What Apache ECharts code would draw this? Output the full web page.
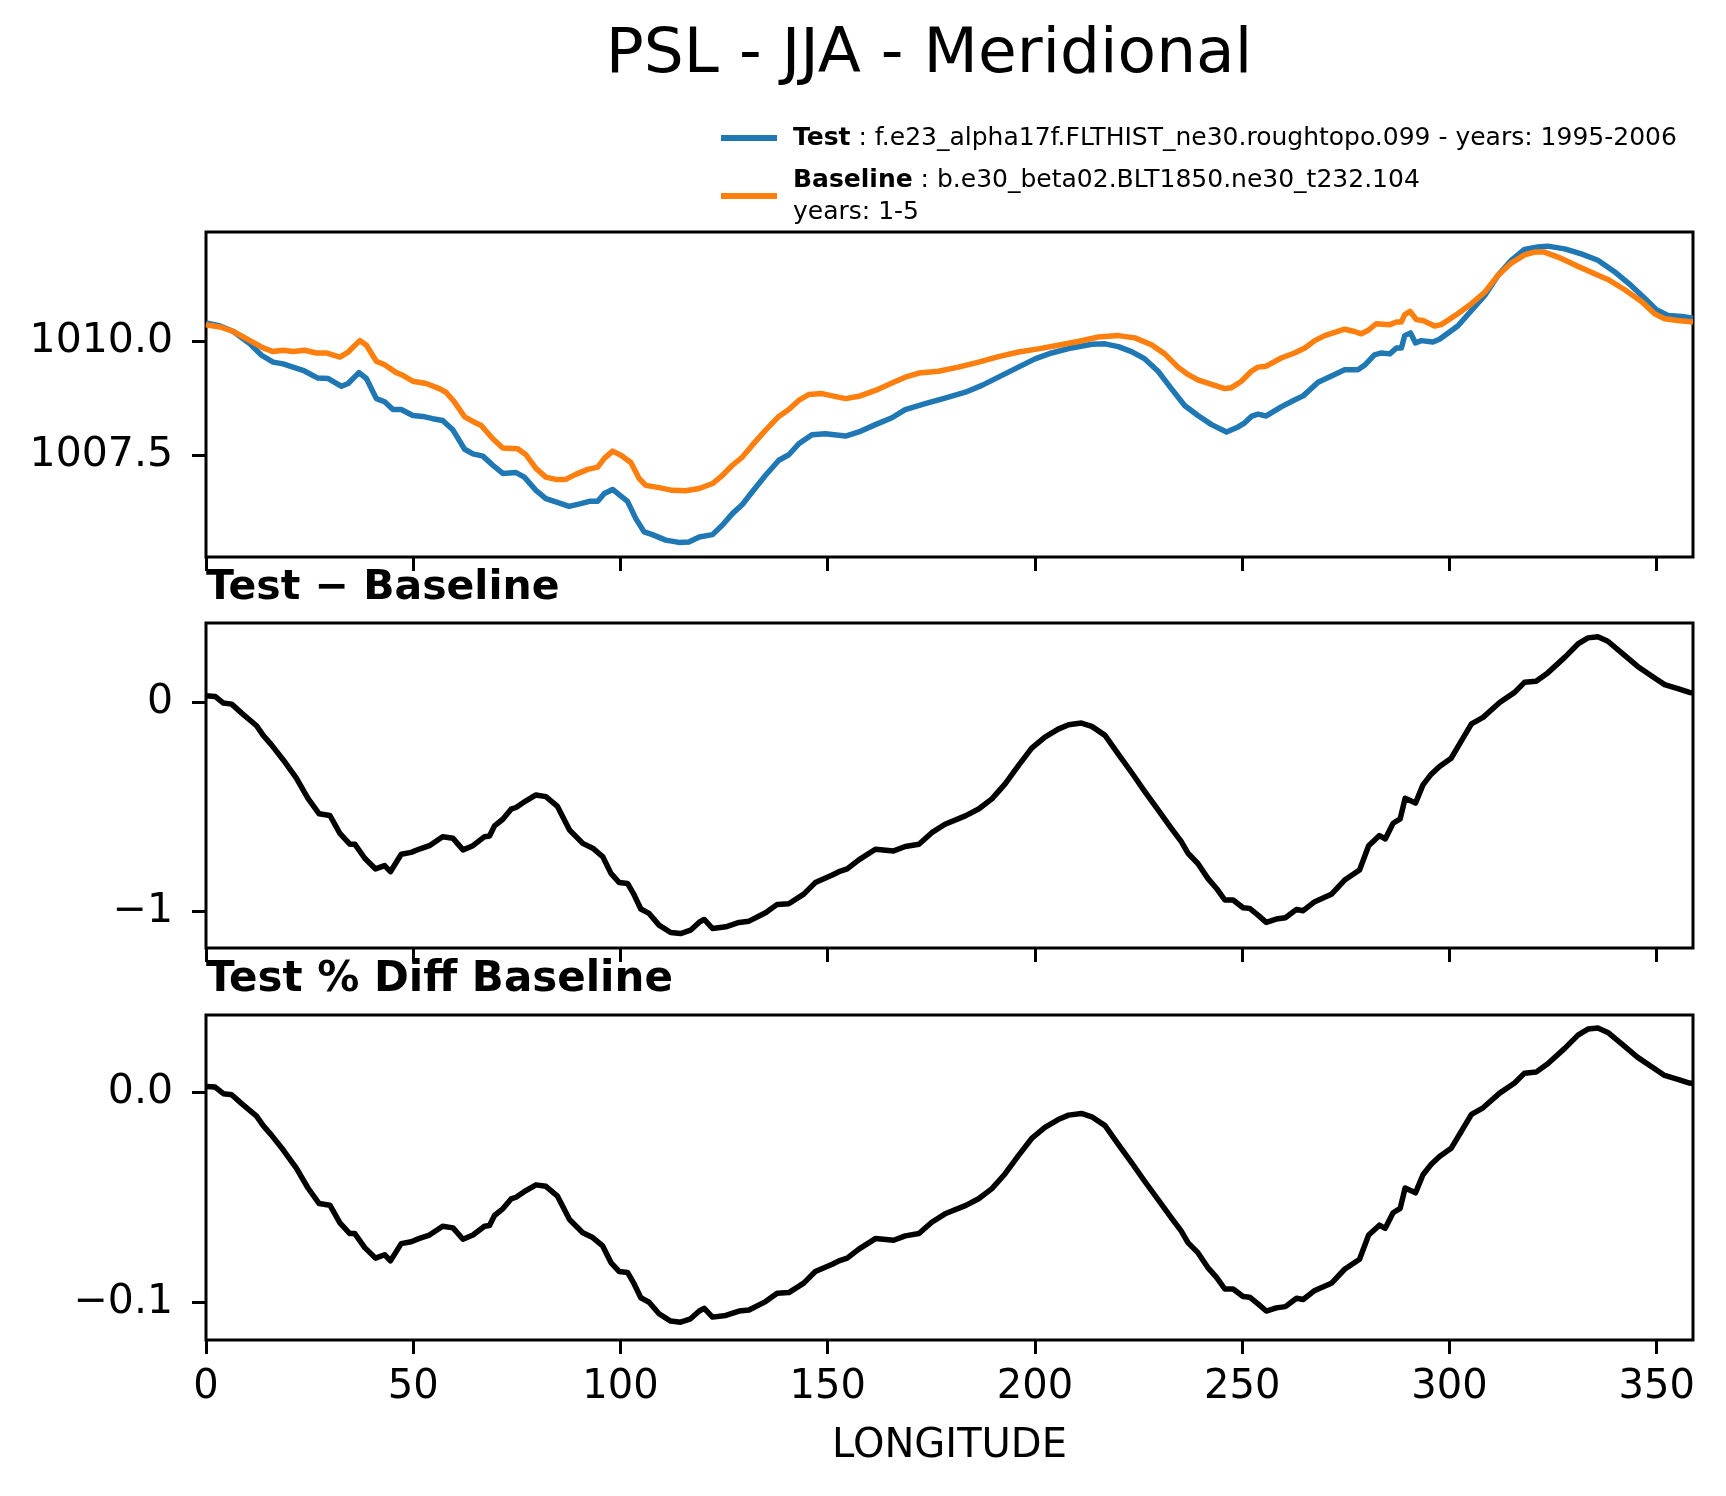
<!DOCTYPE html>
<html>
<head>
<meta charset="utf-8">
<title>PSL - JJA - Meridional</title>
<script src="https://cdn.jsdelivr.net/npm/echarts@6/dist/echarts.min.js"></script>
<style>
  html, body { margin: 0; padding: 0; background: #fff; }
  #chart { width: 1726px; height: 1496px; }
</style>
</head>
<body>
<div id="chart"></div>
<script>
// 经度刻度
var lonTicks = [0, 50, 100, 150, 200, 250, 300, 350];

// Test 曲线 (hPa)
var testLon = [0, 3.4, 6.6, 10.6, 13.4, 16.2, 18.6, 21.0, 23.4, 27.0, 29.5, 32.7, 34.3, 36.9, 38.7, 41.1, 43.1, 45.1, 47.1, 49.9,
    52.3, 54.7, 57.1, 59.6, 62.4, 64.4, 66.8, 69.2, 71.6, 74.8, 76.8, 79.6, 82.0, 84.4, 87.6, 90.4, 92.5, 94.5, 96.1, 98.1,
    101.7, 103.7, 105.7, 107.7, 110.9, 114.1, 116.5, 119.0, 122.2, 124.6, 127.0, 129.4, 131.8, 135.0, 138.2, 140.6, 143.0, 146.2, 149.4, 154.3,
    157.5, 161.5, 165.5, 168.7, 173.5, 178.3, 183.2, 187.2, 191.2, 196.0, 200.0, 204.0, 208.8, 213.7, 216.9, 220.1, 223.3, 226.5, 229.7, 232.9,
    236.1, 239.3, 242.6, 246.2, 249.0, 250.6, 252.2, 253.8, 255.8, 259.4, 262.6, 264.7, 268.3, 272.3, 274.7, 277.9, 279.5, 281.9, 283.6, 285.6,
    287.2, 288.4, 289.2, 290.6, 291.8, 293.2, 296.0, 297.6, 302.0, 305.3, 308.5, 311.7, 314.9, 318.1, 321.3, 323.7, 327.8, 331.8, 335.8, 339.8,
    343.8, 347.1, 349.9, 352.7, 356.0, 358.75];
var testPsl = [1010.40, 1010.33, 1010.21, 1009.94, 1009.69, 1009.54, 1009.50, 1009.43, 1009.36, 1009.19, 1009.18, 1009.01, 1009.07, 1009.31, 1009.18, 1008.74, 1008.67, 1008.50, 1008.50, 1008.37,
    1008.35, 1008.30, 1008.26, 1008.05, 1007.63, 1007.53, 1007.48, 1007.28, 1007.10, 1007.12, 1007.02, 1006.73, 1006.55, 1006.48, 1006.38, 1006.44, 1006.49, 1006.49, 1006.66, 1006.75,
    1006.49, 1006.11, 1005.82, 1005.76, 1005.64, 1005.59, 1005.60, 1005.71, 1005.76, 1005.97, 1006.22, 1006.42, 1006.70, 1007.06, 1007.39, 1007.51, 1007.75, 1007.95, 1007.97, 1007.92,
    1008.01, 1008.17, 1008.32, 1008.50, 1008.63, 1008.75, 1008.88, 1009.03, 1009.21, 1009.43, 1009.61, 1009.74, 1009.85, 1009.93, 1009.94, 1009.88, 1009.77, 1009.61, 1009.34, 1008.96,
    1008.59, 1008.37, 1008.17, 1008.01, 1008.12, 1008.21, 1008.35, 1008.40, 1008.36, 1008.56, 1008.71, 1008.80, 1009.10, 1009.27, 1009.37, 1009.37, 1009.47, 1009.70, 1009.74, 1009.72,
    1009.85, 1009.85, 1010.12, 1010.18, 1009.96, 1010.01, 1009.98, 1010.04, 1010.33, 1010.67, 1011.00, 1011.44, 1011.77, 1012.01, 1012.06, 1012.08, 1012.02, 1011.91, 1011.77, 1011.52,
    1011.22, 1010.94, 1010.69, 1010.56, 1010.54, 1010.50];

// Baseline 曲线 (hPa)
var baseLon = [0, 3.4, 6.6, 10.6, 13.8, 16.2, 18.6, 21.0, 23.8, 26.6, 29.0, 32.3, 34.3, 37.1, 38.7, 41.1, 43.1, 45.9, 47.5, 49.9,
    53.1, 56.3, 57.9, 59.9, 62.4, 64.4, 66.4, 69.2, 71.6, 75.2, 77.2, 79.6, 82.0, 84.4, 86.8, 89.2, 92.1, 94.5, 96.1, 98.1,
    100.1, 102.5, 104.5, 106.1, 109.3, 112.5, 115.7, 119.0, 122.2, 124.6, 127.0, 129.4, 131.8, 135.0, 138.2, 140.6, 143.0, 145.4, 148.6, 151.1,
    154.3, 157.5, 161.5, 165.5, 168.7, 172.0, 176.7, 181.5, 186.4, 191.2, 196.0, 200.8, 205.6, 210.4, 215.3, 220.1, 224.1, 228.1, 231.3, 234.5,
    236.9, 239.3, 242.6, 245.8, 247.4, 249.8, 252.2, 253.8, 255.8, 259.4, 262.6, 265.1, 267.5, 269.9, 274.7, 277.1, 278.7, 280.3, 282.3, 285.6,
    287.2, 288.4, 289.2, 290.5, 292.0, 293.6, 296.4, 298.0, 302.0, 305.3, 308.5, 311.7, 314.9, 318.1, 320.5, 322.9, 326.2, 330.2, 334.2, 338.2,
    342.2, 346.3, 349.5, 351.9, 355.1, 358.75];
var basePsl = [1010.36, 1010.31, 1010.21, 1010.01, 1009.85, 1009.77, 1009.80, 1009.77, 1009.80, 1009.74, 1009.74, 1009.65, 1009.76, 1010.01, 1009.91, 1009.56, 1009.48, 1009.31, 1009.25, 1009.12,
    1009.07, 1008.96, 1008.88, 1008.67, 1008.34, 1008.24, 1008.15, 1007.86, 1007.66, 1007.64, 1007.51, 1007.21, 1007.02, 1006.97, 1006.97, 1007.08, 1007.19, 1007.24, 1007.43, 1007.59,
    1007.50, 1007.34, 1006.99, 1006.84, 1006.79, 1006.73, 1006.72, 1006.77, 1006.88, 1007.06, 1007.28, 1007.46, 1007.72, 1008.05, 1008.35, 1008.50, 1008.70, 1008.83, 1008.85, 1008.80,
    1008.74, 1008.79, 1008.92, 1009.08, 1009.21, 1009.30, 1009.34, 1009.43, 1009.54, 1009.66, 1009.76, 1009.83, 1009.91, 1009.99, 1010.09, 1010.12, 1010.07, 1009.92, 1009.72, 1009.43,
    1009.27, 1009.15, 1009.05, 1008.96, 1008.98, 1009.12, 1009.34, 1009.43, 1009.45, 1009.63, 1009.74, 1009.85, 1010.01, 1010.12, 1010.26, 1010.21, 1010.16, 1010.23, 1010.38, 1010.36,
    1010.42, 1010.42, 1010.58, 1010.65, 1010.47, 1010.45, 1010.33, 1010.36, 1010.60, 1010.82, 1011.07, 1011.44, 1011.71, 1011.89, 1011.95, 1011.95, 1011.84, 1011.67, 1011.51, 1011.35,
    1011.13, 1010.87, 1010.60, 1010.49, 1010.45, 1010.42];

// 差值曲线经度
var diffLon = [0, 2.2, 4.2, 6.2, 8.6, 12.2, 13.8, 15.8, 18.6, 21.8, 24.6, 27.3, 29.9, 32.3, 34.7, 35.9, 38.3, 40.9, 43.1, 44.5,
    47.1, 49.5, 51.5, 53.9, 57.1, 59.6, 62.0, 64.4, 67.2, 68.4, 69.6, 71.6, 73.6, 74.8, 77.2, 79.6, 82.0, 84.8, 87.7, 90.9,
    93.3, 95.7, 97.7, 99.7, 101.7, 103.3, 104.9, 106.9, 109.3, 112.1, 114.5, 116.9, 119.0, 120.2, 122.2, 125.4, 128.6, 131.0, 135.0, 137.8,
    140.6, 144.2, 147.0, 151.1, 152.7, 154.7, 157.5, 161.5, 165.9, 168.7, 172.0, 175.1, 178.3, 183.2, 186.4, 189.6, 192.8, 196.0, 199.2, 202.4,
    205.6, 208.1, 211.2, 213.7, 216.9, 220.1, 223.3, 226.5, 229.7, 232.9, 235.3, 236.9, 239.3, 241.7, 243.8, 245.8, 247.8, 250.2, 251.8, 253.8,
    255.8, 258.2, 260.4, 263.1, 264.7, 267.5, 271.5, 274.7, 278.3, 280.5, 283.1, 284.5, 286.4, 288.1, 289.3, 291.8, 293.6, 295.6, 297.6, 300.4,
    302.8, 305.3, 308.1, 312.1, 315.7, 318.1, 320.9, 323.7, 327.8, 331.0, 333.4, 335.8, 338.2, 341.4, 345.4, 349.5, 351.9, 355.1, 357.9, 358.75];

// Test - Baseline (hPa)
var diffVal = [0.030, 0.027, -0.005, -0.010, -0.053, -0.113, -0.159, -0.204, -0.275, -0.363, -0.459, -0.533, -0.541, -0.626, -0.678, -0.678, -0.745, -0.796, -0.780, -0.809,
    -0.726, -0.717, -0.701, -0.685, -0.642, -0.650, -0.705, -0.685, -0.642, -0.639, -0.591, -0.559, -0.511, -0.503, -0.471, -0.443, -0.451, -0.498, -0.610, -0.674,
    -0.697, -0.737, -0.817, -0.861, -0.865, -0.920, -0.987, -1.008, -1.064, -1.099, -1.104, -1.088, -1.050, -1.037, -1.080, -1.072, -1.051, -1.045, -1.005, -0.965,
    -0.962, -0.916, -0.861, -0.825, -0.809, -0.796, -0.753, -0.702, -0.710, -0.689, -0.678, -0.623, -0.583, -0.543, -0.510, -0.462, -0.390, -0.303, -0.220, -0.167,
    -0.129, -0.108, -0.100, -0.116, -0.159, -0.248, -0.336, -0.427, -0.514, -0.602, -0.666, -0.721, -0.770, -0.841, -0.889, -0.944, -0.944, -0.981, -0.984, -1.016,
    -1.051, -1.035, -1.029, -0.989, -0.995, -0.952, -0.917, -0.849, -0.801, -0.685, -0.637, -0.653, -0.578, -0.557, -0.459, -0.482, -0.395, -0.344, -0.307, -0.268,
    -0.188, -0.104, -0.073, -0.002, 0.046, 0.094, 0.099, 0.139, 0.213, 0.277, 0.306, 0.311, 0.290, 0.237, 0.170, 0.115, 0.083, 0.064, 0.046, 0.044];

// Test % Diff Baseline (%)
var pctVal = [0.0030, 0.0027, -0.0005, -0.0010, -0.0052, -0.0112, -0.0157, -0.0202, -0.0272, -0.0359, -0.0454, -0.0528, -0.0536, -0.0620, -0.0671, -0.0671, -0.0738, -0.0788, -0.0772, -0.0801,
    -0.0719, -0.0710, -0.0694, -0.0678, -0.0636, -0.0644, -0.0698, -0.0678, -0.0636, -0.0633, -0.0585, -0.0553, -0.0506, -0.0498, -0.0466, -0.0439, -0.0446, -0.0493, -0.0604, -0.0667,
    -0.0690, -0.0730, -0.0809, -0.0852, -0.0856, -0.0911, -0.0977, -0.0998, -0.1053, -0.1088, -0.1093, -0.1077, -0.1040, -0.1027, -0.1069, -0.1061, -0.1040, -0.1035, -0.0995, -0.0955,
    -0.0952, -0.0907, -0.0852, -0.0817, -0.0801, -0.0788, -0.0745, -0.0695, -0.0703, -0.0682, -0.0671, -0.0617, -0.0577, -0.0538, -0.0505, -0.0457, -0.0386, -0.0300, -0.0218, -0.0165,
    -0.0128, -0.0107, -0.0099, -0.0115, -0.0157, -0.0246, -0.0333, -0.0423, -0.0509, -0.0596, -0.0659, -0.0714, -0.0762, -0.0833, -0.0880, -0.0935, -0.0935, -0.0971, -0.0974, -0.1006,
    -0.1040, -0.1025, -0.1019, -0.0979, -0.0985, -0.0942, -0.0908, -0.0841, -0.0793, -0.0678, -0.0631, -0.0646, -0.0572, -0.0551, -0.0454, -0.0477, -0.0391, -0.0341, -0.0304, -0.0265,
    -0.0186, -0.0103, -0.0072, -0.0002, 0.0046, 0.0093, 0.0098, 0.0138, 0.0211, 0.0274, 0.0303, 0.0308, 0.0287, 0.0235, 0.0168, 0.0114, 0.0082, 0.0063, 0.0046, 0.0044];

// y轴刻度
var pslTicks = [1007.5, 1010.0];
var diffTicks = [-1, 0];
var pctTicks = [-0.1, 0.0];

var FONT = 'DejaVu Sans';

// 把经度和数值拼成点
function pairs(xs, ys) {
    var out = [];
    for (var i = 0; i < xs.length; i++) {
        out.push([xs[i], ys[i]]);
    }
    return out;
}

// 负号用 U+2212
function minus(s) {
    return s.replace('-', '\u2212');
}

var grids = [
    { left: 206, top: 232, width: 1487, height: 325 },
    { left: 206, top: 623, width: 1487, height: 325 },
    { left: 206, top: 1015, width: 1487, height: 325 }
];
grids.forEach(function(g) {
    g.show = true;
    g.borderColor = '#000';
    g.borderWidth = 3;
    g.backgroundColor = 'transparent';
    g.containLabel = false;
});

function makeX(idx) {
    var isLast = idx === 2;
    return {
        type: 'value',
        gridIndex: idx,
        min: 0,
        max: 358.75,
        axisLine: { show: false, onZero: false },
        splitLine: { show: false },
        axisTick: {
            show: true,
            length: 14,
            customValues: lonTicks,
            lineStyle: { color: '#000', width: 3 }
        },
        axisLabel: {
            show: isLast,
            customValues: lonTicks,
            margin: 28,
            color: '#000',
            fontSize: 40,
            fontFamily: FONT
        },
        name: isLast ? 'LONGITUDE' : '',
        nameLocation: 'middle',
        nameGap: 87,
        nameTextStyle: { color: '#000', fontSize: 40, fontFamily: FONT }
    };
}

function makeY(idx, min, max, ticks, fmt) {
    return {
        type: 'value',
        gridIndex: idx,
        min: min,
        max: max,
        axisLine: { show: false, onZero: false },
        splitLine: { show: false },
        axisTick: {
            show: true,
            length: 14,
            customValues: ticks,
            lineStyle: { color: '#000', width: 3 }
        },
        axisLabel: {
            customValues: ticks,
            margin: 33,
            color: '#000',
            fontSize: 41,
            fontFamily: FONT,
            formatter: fmt
        }
    };
}

var legendRich = {
    b: { fontWeight: 'bold', fontSize: 25, fontFamily: FONT, color: '#000', lineHeight: 32 }
};

var option = {
    animation: false,
    backgroundColor: '#fff',
    title: [
        {
            text: 'PSL - JJA - Meridional',
            left: 929, top: 24, padding: 0,
            textAlign: 'center',
            textStyle: { fontSize: 63, fontWeight: 'normal', fontFamily: FONT, color: '#000', lineHeight: 63 }
        },
        {
            text: 'Test \u2212 Baseline',
            left: 206, top: 568, padding: 0,
            textStyle: { fontSize: 41, fontWeight: 'bold', fontFamily: FONT, color: '#000', lineHeight: 41 }
        },
        {
            text: 'Test % Diff Baseline',
            left: 206, top: 959, padding: 0,
            textStyle: { fontSize: 42, fontWeight: 'bold', fontFamily: FONT, color: '#000', lineHeight: 42 }
        }
    ],
    legend: [
        {
            data: ['Test'],
            left: 721, top: 122, padding: 0,
            orient: 'vertical',
            selectedMode: false,
            icon: 'rect',
            itemWidth: 56, itemHeight: 6,
            formatter: function() {
                return '{b|Test} : f.e23_alpha17f.FLTHIST_ne30.roughtopo.099 - years: 1995-2006';
            },
            textStyle: { fontSize: 25, fontFamily: FONT, color: '#000', lineHeight: 32, padding: [0, 0, 0, 11], rich: legendRich }
        },
        {
            data: ['Baseline'],
            left: 721, top: 164, padding: 0,
            orient: 'vertical',
            selectedMode: false,
            icon: 'rect',
            itemWidth: 56, itemHeight: 6,
            formatter: function() {
                return '{b|Baseline} : b.e30_beta02.BLT1850.ne30_t232.104\nyears: 1-5';
            },
            textStyle: { fontSize: 25, fontFamily: FONT, color: '#000', lineHeight: 32, padding: [0, 0, 0, 11], rich: legendRich }
        }
    ],
    grid: grids,
    xAxis: [makeX(0), makeX(1), makeX(2)],
    yAxis: [
        makeY(0, 1005.27, 1012.39, pslTicks, function(v) { return v.toFixed(1); }),
        makeY(1, -1.173, 0.377, diffTicks, function(v) { return minus(String(v)); }),
        makeY(2, -0.1178, 0.037, pctTicks, function(v) { return minus(v.toFixed(1)); })
    ],
    series: [
        {
            name: 'Test', type: 'line', xAxisIndex: 0, yAxisIndex: 0,
            data: pairs(testLon, testPsl),
            showSymbol: false, symbol: 'none',
            itemStyle: { color: '#1f77b4' },
            lineStyle: { color: '#1f77b4', width: 5.5, join: 'round' }
        },
        {
            name: 'Baseline', type: 'line', xAxisIndex: 0, yAxisIndex: 0,
            data: pairs(baseLon, basePsl),
            showSymbol: false, symbol: 'none',
            itemStyle: { color: '#ff7f0e' },
            lineStyle: { color: '#ff7f0e', width: 5.5, join: 'round' }
        },
        {
            name: 'Test \u2212 Baseline', type: 'line', xAxisIndex: 1, yAxisIndex: 1,
            data: pairs(diffLon, diffVal),
            showSymbol: false, symbol: 'none',
            lineStyle: { color: '#000', width: 5.5, join: 'round' }
        },
        {
            name: 'Test % Diff Baseline', type: 'line', xAxisIndex: 2, yAxisIndex: 2,
            data: pairs(diffLon, pctVal),
            showSymbol: false, symbol: 'none',
            lineStyle: { color: '#000', width: 5.5, join: 'round' }
        }
    ]
};

var myChart = echarts.init(document.getElementById('chart'), null, { renderer: 'canvas' });
myChart.setOption(option);
</script>
</body>
</html>
